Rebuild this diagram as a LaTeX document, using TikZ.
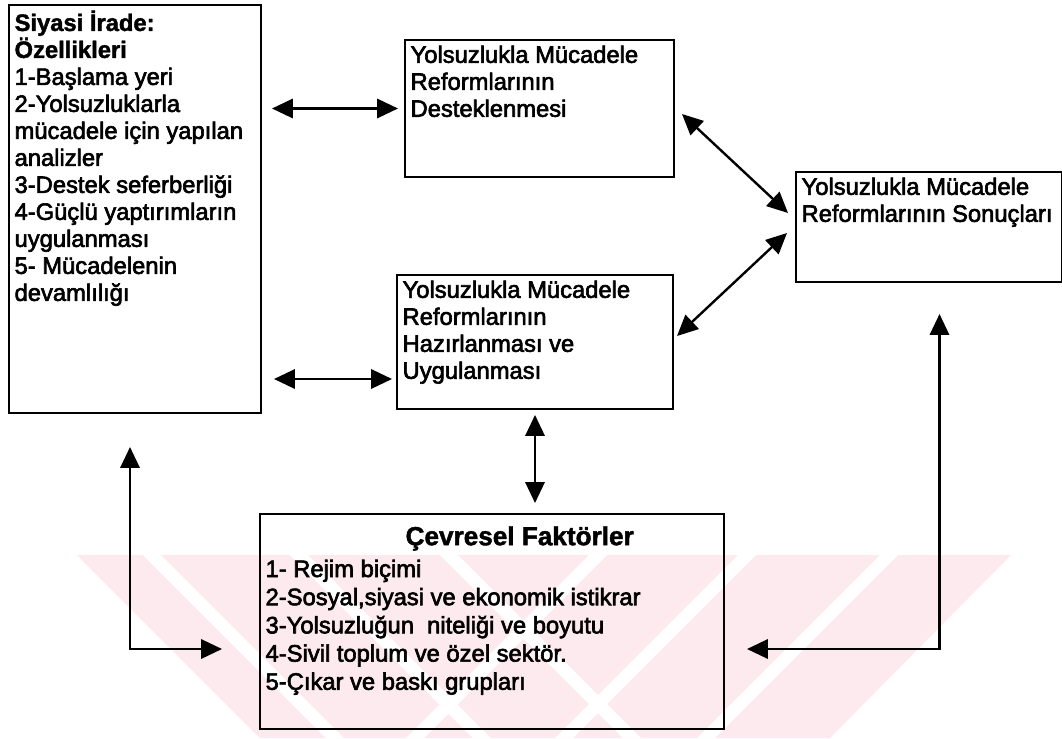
\documentclass[tikz,border=0pt]{standalone}
\usepackage{fontspec}
\setmainfont{Liberation Sans}
\newfontfamily\scanfont{Liberation Sans}[UprightFeatures={FakeBold=2.6}, BoldFeatures={FakeBold=1.6}]
\usetikzlibrary{arrows.meta, calc, backgrounds}

\definecolor{wmpink}{RGB}{252,234,238}

\begin{document}
\begin{tikzpicture}[
  x=0.25mm, y=-0.25mm,
  box/.style={rectangle, draw, line width=0.5mm, anchor=north west,
              inner sep=1.4mm, font=\scanfont\fontsize{16.9}{19.2}\selectfont},
  dbl/.style={{Triangle[length=5.2mm,width=4.8mm]}-{Triangle[length=5.2mm,width=4.8mm]},
              line width=0.6mm},
]
\useasboundingbox (0,0) rectangle (1062,738);

% ---- kutular ----
\node[box] (irade) at (8,4) {\parbox[t][99.2mm][t]{60.2mm}{%
  \textbf{Siyasi İrade:}\\
  \textbf{Özellikleri}\\
  1-Başlama yeri\\
  2-Yolsuzluklarla\\
  mücadele için yapılan\\
  analizler\\
  3-Destek seferberliği\\
  4-Güçlü yaptırımların\\
  uygulanması\\
  5- Mücadelenin\\
  devamlılığı}};

\node[box] (destek) at (404,39) {\parbox[t][31.45mm][t]{64.45mm}{%
  Yolsuzlukla Mücadele\\
  Reformlarının\\
  Desteklenmesi}};

\node[box] (hazir) at (396,274) {\parbox[t][30.7mm][t]{66.2mm}{%
  Yolsuzlukla Mücadele\\
  Reformlarının\\
  Hazırlanması ve\\
  Uygulanması}};

\node[box] (sonuc) at (795,171) {\parbox[t][24.7mm][t]{63.7mm}{%
  Yolsuzlukla Mücadele\\
  \mbox{Reformlarının Sonuçları}}};

\node[box] (cevre) at (259,513) {\parbox[t][50.95mm][t]{113.2mm}{%
  \rule{0pt}{6.4mm}\hspace*{35mm}{\fontsize{18.6}{19.2}\selectfont\textbf{Çevresel Faktörler}}\\[1.2mm]
  1- Rejim biçimi\\[0.3mm]
  2-Sosyal,siyasi ve ekonomik istikrar\\[0.3mm]
  3-Yolsuzluğun\ \ niteliği ve boyutu\\[0.3mm]
  4-Sivil toplum ve özel sektör.\\[0.3mm]
  5-Çıkar ve baskı grupları}};

% ---- oklar ----
\draw[dbl, shorten <=2.5mm, shorten >=1.5mm] (irade.east |- destek.west) -- (destek.west);
\coordinate (hazirok) at ($(hazir.south west)+(0,-31)$);
\draw[dbl, shorten <=3mm, shorten >=1mm] (irade.east |- hazirok) -- (hazirok);
\draw[dbl] ($(destek.east)+(7,5.5)$) -- ($(sonuc.west)+(-7,-14)$);
\draw[dbl] ($(sonuc.west)+(-8,6)$) -- ($(hazir.east)+(3,-6)$);
\draw[dbl, shorten <=1.25mm, shorten >=2.5mm] (hazir.south) -- (hazir.south |- cevre.north);
\draw[dbl, shorten <=9.25mm, shorten >=8.25mm]
  ($(cevre.west)+(0,27.5)$) -| ($(irade.south west)+(122,0)$);
\draw[dbl, shorten <=5.5mm, shorten >=7.75mm]
  ($(cevre.east)+(0,27.5)$) -| ($(sonuc.south)+(10.5,0)$);

% ---- filigran ----
\begin{scope}[on background layer]
  \fill[wmpink] (77,555) -- (1011,555) -- (830,738) -- (260,738) -- cycle;
  \foreach \a in {143,290,440}
    \fill[white] (\a,555) -- (\a+18,555) -- (\a+201,738) -- (\a+183,738) -- cycle;
  \foreach \a in {589,738,880}
    \fill[white] (\a,555) -- (\a+18,555) -- (\a-165,738) -- (\a-183,738) -- cycle;
\end{scope}

\end{tikzpicture}
\end{document}
